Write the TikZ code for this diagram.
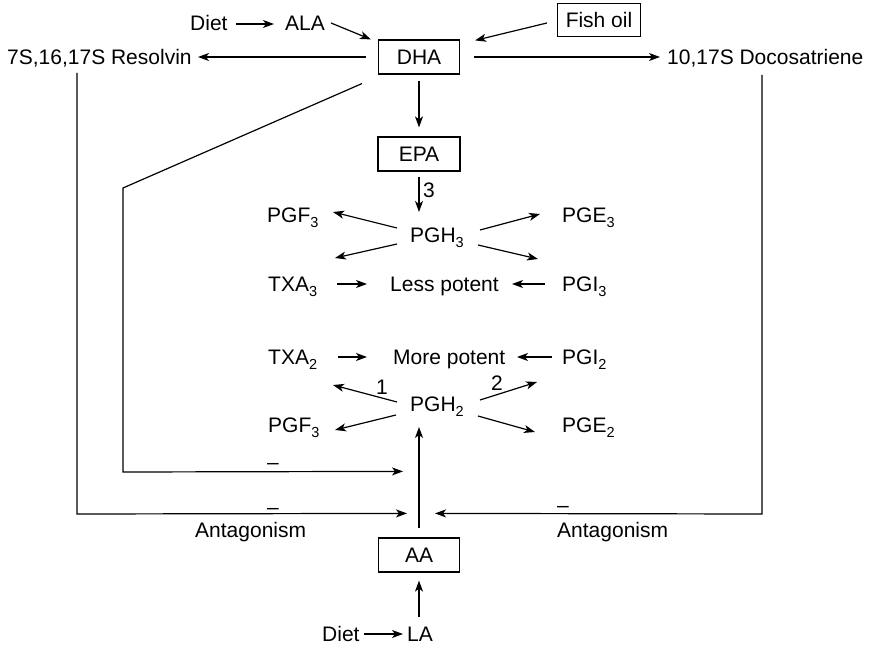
\documentclass[tikz,border=0pt]{standalone}
\usepackage{fontspec}
\setmainfont{Liberation Sans}
\usetikzlibrary{arrows.meta,calc}
\newcommand\sbs[1]{\raisebox{-5pt}{\fontsize{14.5}{14.5}\selectfont #1}}
\begin{document}
\begin{tikzpicture}[x=1pt,y=-1pt,
  every node/.style={font=\fontsize{21}{25}\selectfont, inner sep=0pt},
  txt/.style={anchor=base west},
  box/.style={draw, line width=1.2pt, minimum width=81, minimum height=34, anchor=center},
  arr/.style={line width=1.2pt, -{Stealth[length=11pt,width=8pt,inset=3pt]}},
  ln/.style={line width=1.2pt},
  lbl/.style={anchor=center},
  mn/.style={anchor=base}]
\useasboundingbox (0,0) rectangle (874,647);
% boxes
\node[box] (dha) at (419,57) {DHA};
\node[box, minimum width=83, minimum height=33] (fish) at (599,20) {Fish oil};
\node[box, minimum width=82] (epa) at (419,154) {EPA};
\node[box] (aa) at (419,555) {AA};
% texts
\node[txt] (diet1) at (190,31) {Diet};
\node[txt] (ala) at (285,31) {ALA};
\node[txt] (res) at (7,65) {7S,16,17S Resolvin};
\node[txt] (doco) at (667,65) {10,17S Docosatriene};
\node[txt] (pgf3a) at (267,222) {PGF\sbs{3}};
\node[txt] (pge3) at (562,222) {PGE\sbs{3}};
\node[txt] (pgh3) at (410,242) {PGH\sbs{3}};
\node[txt] (txa3) at (268,291) {TXA\sbs{3}};
\node[txt] (less) at (390,291) {Less potent};
\node[txt] (pgi3) at (562,291) {PGI\sbs{3}};
\node[txt] (txa2) at (268,364) {TXA\sbs{2}};
\node[txt] (more) at (393,364) {More potent};
\node[txt] (pgi2) at (562,364) {PGI\sbs{2}};
\node[txt] (pgh2) at (410,411) {PGH\sbs{2}};
\node[txt] (pgf3b) at (268,432) {PGF\sbs{3}};
\node[txt] (pge2) at (562,432) {PGE\sbs{2}};
\node[txt] (ant1) at (195,537) {Antagonism};
\node[txt] (ant2) at (557,537) {Antagonism};
\node[txt] (diet2) at (322,641) {Diet};
\node[txt] (la) at (407,641) {LA};
% labels
\node[lbl] (l3) at (429,190) {3};
\node[lbl] (l1) at (382,387) {1};
\node[lbl] (l2) at (497,383) {2};
\node[mn] (m1) at (273,469) {–};
\node[mn] (m2) at (273,514) {–};
\node[mn] (m3) at (563,512) {–};
% bend points
\coordinate (k1) at (123,188);
\coordinate (k2) at (123,472);
\coordinate (k3) at (77,514);
\coordinate (k4) at (762,514);
% top arrows
\draw[arr] ([shift={(46,-7)}]diet1.base west) -- ([shift={(-11,-7)}]ala.base west);
\draw[arr] ([shift={(46,-8)}]ala.base west) -- ([shift={(-7,0)}]dha.north west);
\draw[arr] ([shift={(-10,3)}]fish.west) -- ([shift={(15,1)}]dha.north east);
\draw[arr] ([shift={(-12,0)}]dha.west) -- ([shift={(191,-8)}]res.base west);
\draw[arr] ([shift={(14,0)}]dha.east) -- ([shift={(-7,-8)}]doco.base west);
\draw[arr] ([shift={(0,6)}]dha.south) -- ([shift={(0,-9)}]epa.north);
\draw[arr] ([shift={(0,5)}]epa.south) -- ([shift={(9,-30)}]pgh3.base west);
% PGH3 fan
\draw[arr] ([shift={(-13,-14)}]pgh3.base west) -- ([shift={(66,-10)}]pgf3a.base west);
\draw[arr] ([shift={(-13,2)}]pgh3.base west) -- ([shift={(67,-33)}]txa3.base west);
\draw[arr] ([shift={(70,-12)}]pgh3.base west) -- ([shift={(-22,-8)}]pge3.base west);
\draw[arr] ([shift={(68,3)}]pgh3.base west) -- ([shift={(-24,-32)}]pgi3.base west);
\draw[arr] ([shift={(69,-7)}]txa3.base west) -- ([shift={(-23,-7)}]less.base west);
\draw[arr] ([shift={(-17,-7)}]pgi3.base west) -- ([shift={(122,-7)}]less.base west);
% PGH2 fan
\draw[arr] ([shift={(70,-7)}]txa2.base west) -- ([shift={(-26,-7)}]more.base west);
\draw[arr] ([shift={(-10,-7)}]pgi2.base west) -- ([shift={(124,-7)}]more.base west);
\draw[arr] ([shift={(-13,-9)}]pgh2.base west) -- ([shift={(65,21)}]txa2.base west);
\draw[arr] ([shift={(70,-11)}]pgh2.base west) -- ([shift={(-25,18)}]pgi2.base west);
\draw[arr] ([shift={(-14,4)}]pgh2.base west) -- ([shift={(67,-2)}]pgf3b.base west);
\draw[arr] ([shift={(68,5)}]pgh2.base west) -- ([shift={(-27,0)}]pge2.base west);
% AA
\draw[arr] ([shift={(0,-9)}]aa.north) -- ([shift={(9,16)}]pgh2.base west);
\draw[arr] ([shift={(12,-24)}]la.base west) -- ([shift={(0,8)}]aa.south);
\draw[arr] ([shift={(42,-7)}]diet2.base west) -- ([shift={(-4,-7)}]la.base west);
% feedback lines
\draw[arr] ([shift={(-16,9)}]dha.south west) -- (k1) -- (k2) -- ([shift={(-16,-66)}]aa.north);
\draw[arr] ([shift={(70,8)}]res.base west) -- (k3) -- ([shift={(-12,-24)}]aa.north);
\draw[arr] ([shift={(95,10)}]doco.base west) -- (k4) -- ([shift={(16,-24)}]aa.north);
\end{tikzpicture}
\end{document}
